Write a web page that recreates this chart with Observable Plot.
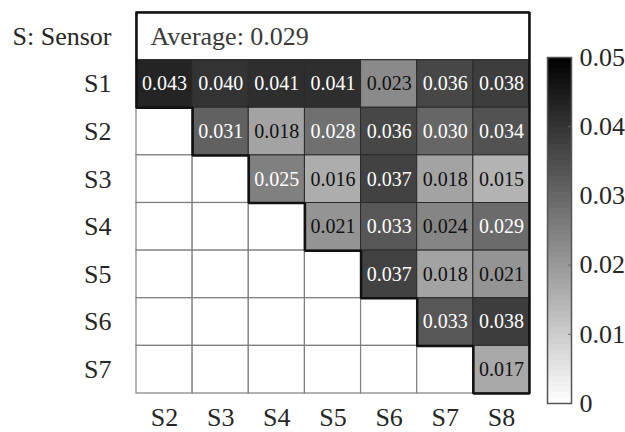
<!DOCTYPE html>
<html><head><meta charset="utf-8">
<script src="https://cdn.jsdelivr.net/npm/d3@7"></script>
<script src="https://cdn.jsdelivr.net/npm/@observablehq/plot@0.6"></script>
<style>
body{margin:0;background:#fff;}
#wrap{position:relative;width:625px;height:432px;overflow:hidden;}
#wrap svg{position:absolute;left:0;top:0;}
</style></head><body><div id="wrap"></div>
<script>
const headerLabel = "S: Sensor";
const rowLabels = ["S1","S2","S3","S4","S5","S6","S7"];
const colLabels = ["S2","S3","S4","S5","S6","S7","S8"];
// upper-triangle values, row i starts at column i
const values = [
  [0.043,0.040,0.041,0.041,0.023,0.036,0.038],
  [0.031,0.018,0.028,0.036,0.030,0.034],
  [0.025,0.016,0.037,0.018,0.015],
  [0.021,0.033,0.024,0.029],
  [0.037,0.018,0.021],
  [0.033,0.038],
  [0.017]
];
const averageText = "Average: 0.029";
const colorTicks = [0,0.01,0.02,0.03,0.04,0.05];
const colorDomain = [0,0.05];

const W = 625, H = 432;
const font = "Liberation Serif";
const N = colLabels.length;
const colorScale = {type:"linear", domain:colorDomain, range:["#ffffff","#000000"], interpolate:"rgb"};

const cells = [];
rowLabels.forEach((r,i)=>colLabels.forEach((c,j)=>{
  cells.push({row:i+1, col:j, value: j>=i ? values[i][j-i] : null});
}));
const filled = cells.filter(d=>d.value!=null);
const empty = cells.filter(d=>d.value==null);

// staircase outline derived from grid structure
const stair = [[0,0],[N,0],[N,N+1]];
for (let r=rowLabels.length; r>=1; r--) { stair.push([r-1,r+1]); stair.push([r-1,r]); }
stair.push([0,0]);

const main = Plot.plot({
  width:W, height:H,
  marginLeft:136, marginRight:96, marginTop:12, marginBottom:39,
  style:{fontFamily:font, background:"transparent"},
  x:{domain:[0,N], axis:null},
  y:{domain:[0,N+1], reverse:true, axis:null},
  color:colorScale,
  marks:[
    Plot.rect(empty, {x1:"col", x2:d=>d.col+1, y1:"row", y2:d=>d.row+1, fill:"white", stroke:"#7f7f7f", strokeWidth:1.2}),
    Plot.rect(filled, {x1:"col", x2:d=>d.col+1, y1:"row", y2:d=>d.row+1, fill:"value", stroke:"#2a2a2a", strokeWidth:1}),
    Plot.rect([averageText], {x1:0, x2:N, y1:0, y2:1, fill:"white", stroke:"#222", strokeWidth:1}),
    Plot.text(filled, {x:d=>d.col+0.5, y:d=>d.row+0.5, text:d=>d.value.toFixed(3),
      fill:d=>d.value>=0.025?"#ffffff":"#111111", fontSize:20, fontFamily:font}),
    Plot.text([averageText], {x:0, y:0.5, text:d=>d, textAnchor:"start", dx:14, fontSize:26, fill:"#3a3a3a", fontFamily:font}),
    Plot.line(stair, {x:d=>d[0], y:d=>d[1], stroke:"#111", strokeWidth:2.5, strokeLinejoin:"miter"}),
    Plot.text([headerLabel, ...rowLabels], {x:0, y:(d,i)=>i+0.5, text:d=>d, textAnchor:"end", dx:-25, fontSize:26, fill:"#262626", fontFamily:font}),
    Plot.text(colLabels, {x:(d,i)=>i+0.5, y:N+1, text:d=>d, dy:24, fontSize:26, fill:"#262626", fontFamily:font})
  ]
});

const levels = d3.range(64).map(i=>i*(colorDomain[1]/64));
const step = colorDomain[1]/64;
const bar = Plot.plot({
  width:W, height:H,
  marginLeft:547, marginRight:54, marginTop:57, marginBottom:29,
  style:{fontFamily:font, background:"transparent"},
  x:{domain:[0,1], axis:null},
  y:{domain:colorDomain, axis:null},
  color:colorScale,
  marks:[
    Plot.rect(levels, {x1:0, x2:1, y1:d=>d, y2:d=>d+step, fill:d=>d+step/2, shapeRendering:"crispEdges"}),
    Plot.ruleY(colorTicks.slice(1,-1), {x1:0.88, x2:1, stroke:"#666", strokeWidth:1}),
    Plot.frame({stroke:"#555", strokeWidth:1.5}),
    Plot.text(colorTicks, {x:1, y:d=>d, text:d=>String(d), textAnchor:"start", dx:8, fontSize:26, fill:"#262626", fontFamily:font})
  ]
});

const wrap = document.getElementById("wrap");
wrap.appendChild(main);
wrap.appendChild(bar);
</script>
</body></html>
